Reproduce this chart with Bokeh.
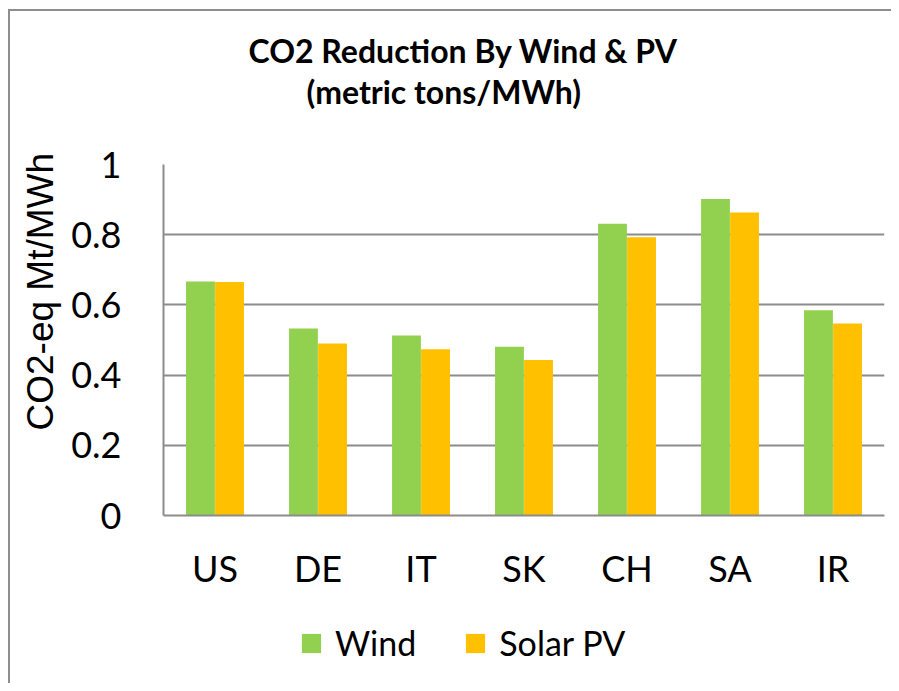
from bokeh.plotting import figure
from bokeh.layouts import column
from bokeh.models import (FactorRange, Range1d, ColumnDataSource, Title, Legend,
                          LegendItem, NumeralTickFormatter, FixedTicker)
from bokeh.transform import dodge
from bokeh.embed import file_html
from bokeh.resources import INLINE

# ---- data ----
countries = ["US", "DE", "IT", "SK", "CH", "SA", "IR"]
wind = [0.667, 0.533, 0.513, 0.481, 0.831, 0.902, 0.585]
solar_pv = [0.665, 0.490, 0.474, 0.443, 0.793, 0.863, 0.547]
y_ticks = [0, 0.2, 0.4, 0.6, 0.8, 1.0]
series_names = ["Wind", "Solar PV"]
title_line1 = "CO2 Reduction By Wind & PV"
title_line2 = "(metric tons/MWh)"
y_label = "CO2-eq Mt/MWh"

GREEN = "#92D050"
ORANGE = "#FFC000"
GRID = "#8c8c8c"
BORDER = "2px solid #8e8e8e"
FONT = "Lato"

p = figure(
    x_range=FactorRange(factors=countries, range_padding=0),
    y_range=Range1d(0, 1),
    frame_width=719, frame_height=349,
    min_border_left=153, min_border_right=9,
    min_border_top=153, min_border_bottom=80,
    output_backend="svg", toolbar_location=None,
    title=title_line1,
)
p.styles = {"border-left": BORDER, "border-top": BORDER,
            "margin-top": "9px", "margin-left": "8px"}
p.outline_line_color = None
p.background_fill_color = "white"
p.border_fill_color = "white"

p.title.text_font = FONT
p.title.text_font_style = "bold"
p.title.text_font_size = "32px"
p.title.text_color = "black"
p.title.align = "left"
p.title.offset = 85
p.title.standoff = 0

# stacked from the frame outward: spacer, line 2, then the plot title (line 1)
spacer = Title(text=" ", text_font=FONT, text_font_size="10px", standoff=40)
t2 = Title(text=title_line2, align="left", offset=143, standoff=0,
           text_font=FONT, text_font_style="bold", text_font_size="32px",
           text_color="black")
p.add_layout(spacer, "above")
p.add_layout(t2, "above")

src = ColumnDataSource(dict(countries=countries, wind=wind, solar_pv=solar_pv))
r1 = p.vbar(x=dodge("countries", -0.141, range=p.x_range), top="wind", width=0.28,
            source=src, fill_color=GREEN, line_color=None)
r2 = p.vbar(x=dodge("countries", 0.141, range=p.x_range), top="solar_pv", width=0.28,
            source=src, fill_color=ORANGE, line_color=None)

# axes
p.yaxis.ticker = FixedTicker(ticks=y_ticks)
p.yaxis.formatter = NumeralTickFormatter(format="0.[0]")
p.ygrid.ticker = FixedTicker(ticks=y_ticks)
p.ygrid.grid_line_color = GRID
p.ygrid.grid_line_width = 2
p.xgrid.visible = False

for ax in (p.xaxis[0], p.yaxis[0]):
    ax.axis_line_color = GRID
    ax.axis_line_width = 2
    ax.major_tick_line_color = None
    ax.minor_tick_line_color = None
    ax.major_tick_out = 0
    ax.major_tick_in = 0
    ax.major_label_text_font = FONT
    ax.major_label_text_font_size = "36px"
    ax.major_label_text_color = "black"

p.yaxis.major_label_standoff = 42
p.xaxis.major_label_standoff = 30

ylab = Title(text=y_label, align="left", offset=85, standoff=15,
             text_font="Liberation Sans", text_font_style="normal",
             text_font_size="37px", text_color="black")
p.add_layout(ylab, "left")

# ---- legend strip below the chart (its frame aligns with the chart frame) ----
pl = figure(width=881, height=90, x_range=FactorRange(factors=countries, range_padding=0),
            y_range=Range1d(2, 3),
            x_axis_location=None, y_axis_location=None, min_border=0,
            output_backend="svg", toolbar_location=None)
pl.styles = {"border-left": BORDER, "margin-left": "8px"}
pl.outline_line_color = None
pl.grid.visible = False
pl.background_fill_color = "white"
pl.border_fill_color = "white"
# same series, out of this strip's visible y range: only used for the legend swatches
lg1 = pl.vbar(x=dodge("countries", -0.141, range=pl.x_range), top="wind", width=0.28,
              source=src, fill_color=GREEN, line_color=None)
lg2 = pl.vbar(x=dodge("countries", 0.141, range=pl.x_range), top="solar_pv", width=0.28,
              source=src, fill_color=ORANGE, line_color=None)

legend = Legend(
    items=[LegendItem(label=series_names[0], renderers=[lg1]),
           LegendItem(label=series_names[1], renderers=[lg2])],
    orientation="horizontal", location=(136, 20),
    glyph_width=24, glyph_height=24, label_standoff=12, spacing=47,
    padding=0, margin=0, border_line_color=None, background_fill_alpha=0,
    label_text_font=FONT, label_text_font_size="34px", label_text_color="black",
)
pl.add_layout(legend, "center")

layout = column(p, pl, spacing=0)
open("out.html", "w").write(file_html(layout, INLINE))
